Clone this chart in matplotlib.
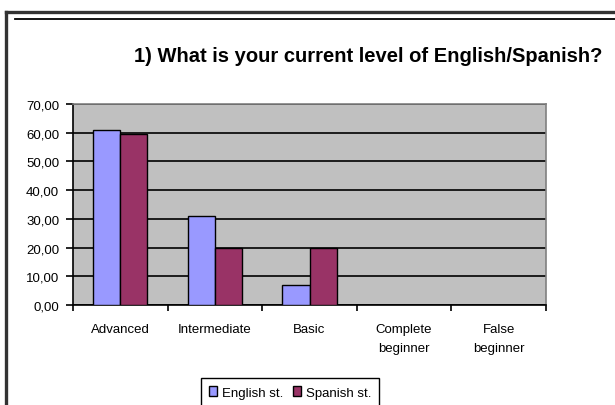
import matplotlib
matplotlib.use("Agg")
import matplotlib.pyplot as plt
import numpy as np
from matplotlib.lines import Line2D
from matplotlib.patches import Patch

plt.rcParams['font.family'] = ['Liberation Sans', 'DejaVu Sans']

categories = ["Advanced", "Intermediate", "Basic", "Complete\nbeginner", "False\nbeginner"]
english = [61.1, 31.0, 7.0, 0.0, 0.0]
spanish = [59.7, 19.7, 19.7, 0.0, 0.0]
series_names = ["English st.", "Spanish st."]
yticks = [0, 10, 20, 30, 40, 50, 60, 70]
ytick_labels = ["0,00", "10,00", "20,00", "30,00", "40,00", "50,00", "60,00", "70,00"]
title = "1) What is your current level of English/Spanish?"

W, H = 615, 406
fig = plt.figure(figsize=(W / 100, H / 100), dpi=100)
fig.patch.set_facecolor("white")

# axes in pixel coordinates
L, R, T, B = 73, 546, 105, 306
ax = fig.add_axes([L / W, 1 - B / H, (R - L) / W, (B - T) / H])
ax.set_facecolor("#C0C0C0")

x = np.arange(len(categories))
bw = 1 / 3.5
ax.bar(x - bw / 2, english, width=bw, color="#9999FF", edgecolor="black", linewidth=1.0, zorder=3)
ax.bar(x + bw / 2, spanish, width=bw, color="#993366", edgecolor="black", linewidth=1.0, zorder=3)

ax.set_xlim(-0.5, len(categories) - 0.5)
ax.set_ylim(0, 70)
ax.set_yticks(yticks)
ax.set_yticklabels(ytick_labels, fontsize=9.5)
ax.yaxis.grid(True, color="black", linewidth=1.2, zorder=1)
ax.set_axisbelow(True)

# category boundaries as ticks, labels centered
ax.set_xticks(np.arange(-0.5, len(categories), 1.0))
ax.set_xticklabels([])
ax.set_xticks(x, minor=True)
ax.set_xticklabels(categories, minor=True, fontsize=9.5, linespacing=1.75)
ax.tick_params(axis="x", which="minor", length=0, pad=13)
ax.tick_params(axis="x", which="major", length=4, width=1.2, color="black", direction="out")
ax.tick_params(axis="y", length=5, width=1.2, color="black", direction="out", pad=5)

ax.spines["left"].set_color("black")
ax.spines["left"].set_linewidth(1.2)
ax.spines["bottom"].set_color("black")
ax.spines["bottom"].set_linewidth(1.2)
ax.spines["top"].set_color("#808080")
ax.spines["right"].set_color("#808080")
ax.spines["top"].set_linewidth(1.2)
ax.spines["right"].set_linewidth(1.2)

# title
fig.text(368 / W, 1 - 56 / H, title, ha="center", va="center", fontsize=14.5, fontweight="bold")

# frame lines
tr = fig.transFigure
fig.add_artist(Line2D([6 / W, 6 / W], [0, 1 - 13 / H], color="#333333", linewidth=2.4, transform=tr))
fig.add_artist(Line2D([6 / W, 1], [1 - 13 / H, 1 - 13 / H], color="#333333", linewidth=2.4, transform=tr))
fig.add_artist(Line2D([15 / W, 1], [1 - 20 / H, 1 - 20 / H], color="black", linewidth=1.3, transform=tr))

# legend
handles = [Patch(facecolor="#9999FF", edgecolor="black", linewidth=1.0),
           Patch(facecolor="#993366", edgecolor="black", linewidth=1.0)]
leg = fig.legend(handles, series_names, loc="upper left",
                 bbox_to_anchor=(201 / W, 1 - 379 / H), ncol=2, fontsize=9.5,
                 frameon=True, fancybox=False, edgecolor="black", framealpha=1,
                 handlelength=0.6, handleheight=0.8, handletextpad=0.4,
                 columnspacing=0.7, borderpad=0.6, borderaxespad=0)
leg.get_frame().set_linewidth(1.0)

fig.savefig("out.png", dpi=100, facecolor="white")
